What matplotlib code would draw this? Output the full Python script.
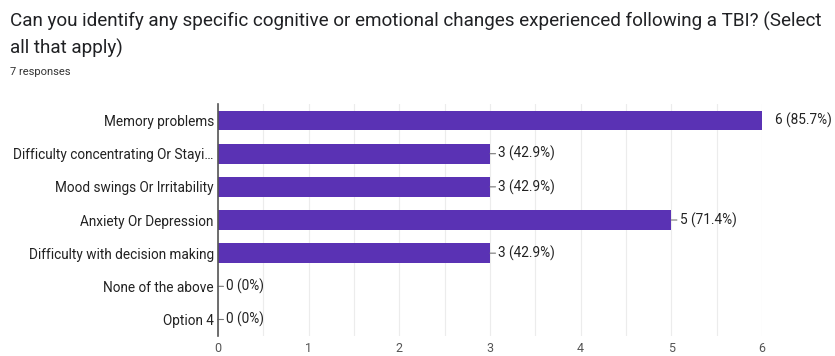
# horizontal bar chart of survey responses

import matplotlib.pyplot as plt
import numpy as np

plt.rcParams['font.family'] = ['Roboto', 'DejaVu Sans']

categories = ['Memory problems', 'Difficulty concentrating Or Stayi\u2026',
              'Mood swings Or Irritability', 'Anxiety Or Depression',
              'Difficulty with decision making', 'None of the above', 'Option 4']
counts = [6, 3, 3, 5, 3, 0, 0]
percents = ['85.7%', '42.9%', '42.9%', '71.4%', '42.9%', '0%', '0%']
xticks = [0, 1, 2, 3, 4, 5, 6]

bar_color = '#5a32b4'

fig = plt.figure(figsize=(8.35, 3.56), dpi=100, facecolor='w')
ax = fig.add_axes([0.261, 0.056, 0.6516, 0.652])

y = np.arange(len(categories))
ax.barh(y, counts, height=0.6, color=bar_color, zorder=3)

ax.set_ylim(6.5, -0.5)
ax.set_xlim(0, 6)
ax.set_yticks(y)
ax.set_yticklabels(categories, fontsize=9.8, color='#222222')
ax.set_xticks(xticks)
ax.set_xticks(np.arange(0.5, 6, 1), minor=True)
ax.tick_params(axis='x', which='both', length=0, labelsize=9,
               labelcolor='#555555', pad=4)
ax.tick_params(axis='y', length=0, pad=3)
ax.grid(axis='x', which='both', color='#ececec', linewidth=0.8, zorder=0)

for s in ['top', 'right', 'bottom']:
    ax.spines[s].set_visible(False)
ax.spines['left'].set_color('#555555')
ax.spines['left'].set_linewidth(1.2)
ax.spines['left'].set_zorder(4)

for yi, c, p in zip(y, counts, percents):
    label = f'{c} ({p})'
    if c == max(counts):
        ax.annotate(label, (c, yi), xytext=(9, 0), textcoords='offset points',
                    va='center', ha='left', fontsize=9.8, color='#222222',
                    annotation_clip=False)
    else:
        ax.annotate(label, (c, yi), xytext=(6, 0), textcoords='offset points',
                    va='center', ha='left', fontsize=9.8, color='#222222',
                    annotation_clip=False,
                    arrowprops=dict(arrowstyle='-', color='#777777', lw=0.8,
                                    shrinkA=0, shrinkB=0))

fig.text(0.012, 0.94, 'Can you identify any specific cognitive or emotional changes experienced following a TBI? (Select',
         fontsize=13.6, color='#202124', va='center')
fig.text(0.012, 0.865, 'all that apply)', fontsize=13.6, color='#202124', va='center')
fig.text(0.012, 0.797, '7 responses', fontsize=8, color='#333333', va='center')

plt.savefig('out.png', dpi=100)
